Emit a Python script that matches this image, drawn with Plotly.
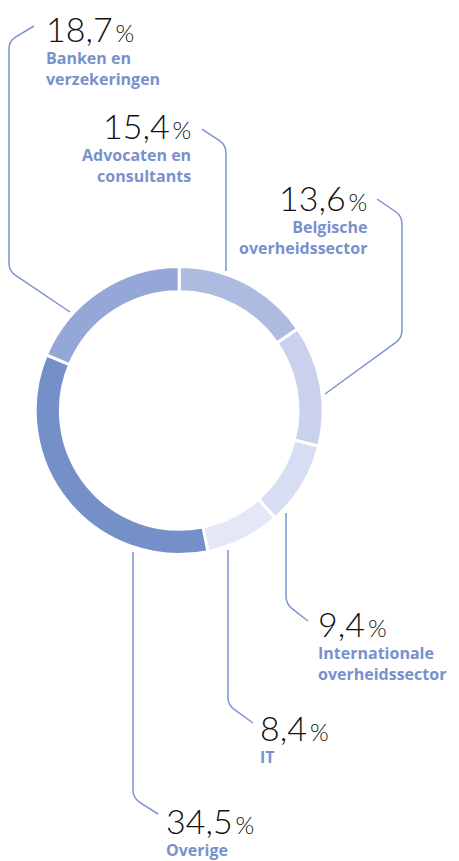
import plotly.graph_objects as go

# ---- data ----
categories = ["Advocaten en consultants", "Belgische overheidssector",
              "Internationale overheidssector", "IT", "Overige",
              "Banken en verzekeringen"]
label_lines = [["Advocaten en", "consultants"], ["Belgische", "overheidssector"],
               ["Internationale", "overheidssector"], ["IT"], ["Overige"],
               ["Banken en", "verzekeringen"]]
values = [15.4, 13.6, 9.4, 8.4, 34.5, 18.7]
slice_colors = ["#aebbe0", "#c9d1ed", "#d7ddf2", "#e4e8f6", "#7590c8", "#94a7d6"]

# ---- layout geometry (pixels) ----
W, H = 459, 861
CX, CY, R = 179.2, 410.5, 144.0
HOLE = 0.825

# label placement: anchor x, alignment, number baseline
label_pos = [(192, "right", 136), (368, "right", 208), (317, "left", 634),
             (259, "left", 738), (165, "left", 831), (45, "left", 39)]
# leader polylines (pixels)
leaders = [
    [(202, 129), (226, 145), (226, 271)],
    [(377, 199), (402, 216), (402, 338), (325, 394)],
    [(286, 513), (286, 604), (308, 621)],
    [(228, 550), (228, 705), (253, 723)],
    [(133, 552), (133, 798), (158, 814)],
    [(70, 312), (9, 271), (9, 41), (34, 26)],
]

LINE_COLOR = "#7b93cf"
LABEL_COLOR = "#7891cc"
NUM_FONT = "Lato"
LBL_FONT = "Open Sans"


def px(x):
    return x / W


def py(y):
    return 1 - y / H


def rounded_path(pts, r=8):
    import math
    d = "M %.5f %.5f" % (px(pts[0][0]), py(pts[0][1]))
    for i in range(1, len(pts) - 1):
        x0, y0 = pts[i - 1]
        x1, y1 = pts[i]
        x2, y2 = pts[i + 1]
        l1 = math.hypot(x1 - x0, y1 - y0)
        l2 = math.hypot(x2 - x1, y2 - y1)
        a = (x1 - (x1 - x0) * r / l1, y1 - (y1 - y0) * r / l1)
        b = (x1 + (x2 - x1) * r / l2, y1 + (y2 - y1) * r / l2)
        d += " L %.5f %.5f Q %.5f %.5f %.5f %.5f" % (
            px(a[0]), py(a[1]), px(x1), py(y1), px(b[0]), py(b[1]))
    d += " L %.5f %.5f" % (px(pts[-1][0]), py(pts[-1][1]))
    return d


fig = go.Figure(go.Pie(
    labels=categories, values=values, sort=False, direction="clockwise",
    rotation=0, hole=HOLE, textinfo="none", hoverinfo="label+percent",
    marker=dict(colors=slice_colors, line=dict(color="white", width=3)),
    domain=dict(x=[px(CX - R), px(CX + R)], y=[py(CY + R), py(CY - R)]),
    showlegend=False,
))

shapes = []
for pts in leaders:
    shapes.append(dict(type="path", xref="paper", yref="paper",
                       path=rounded_path(pts),
                       line=dict(color=LINE_COLOR, width=1.5)))

annotations = []
NUM_SIZE, PCT_SIZE, LBL_SIZE = 34, 24, 16
for v, lines, (ax, align, base) in zip(values, label_lines, label_pos):
    num = ("%.1f" % v).replace(".", ",")
    annotations.append(dict(
        x=px(ax), y=py(base - 0.30 * NUM_SIZE), xref="paper", yref="paper",
        xanchor=align, yanchor="middle", showarrow=False, borderpad=0,
        text=num + "<span style='font-size:%dpx'>\u2009%%</span>" % PCT_SIZE,
        font=dict(family=NUM_FONT, size=NUM_SIZE, color="#111111", weight=300),
    ))
    # first line baseline at base+23; block top is ~ baseline - 1.0*size
    top = base + 23 - 1.0 * LBL_SIZE
    annotations.append(dict(
        x=px(ax), y=py(top), xref="paper", yref="paper",
        xanchor=align, yanchor="top", align=align, showarrow=False, borderpad=0,
        text="<br>".join(lines),
        font=dict(family=LBL_FONT, size=LBL_SIZE, color=LABEL_COLOR, weight=700),
    ))

fig.update_layout(
    width=W, height=H, margin=dict(l=0, r=0, t=0, b=0),
    paper_bgcolor="white", plot_bgcolor="white",
    shapes=shapes, annotations=annotations,
)

fig.write_html("out.html")
